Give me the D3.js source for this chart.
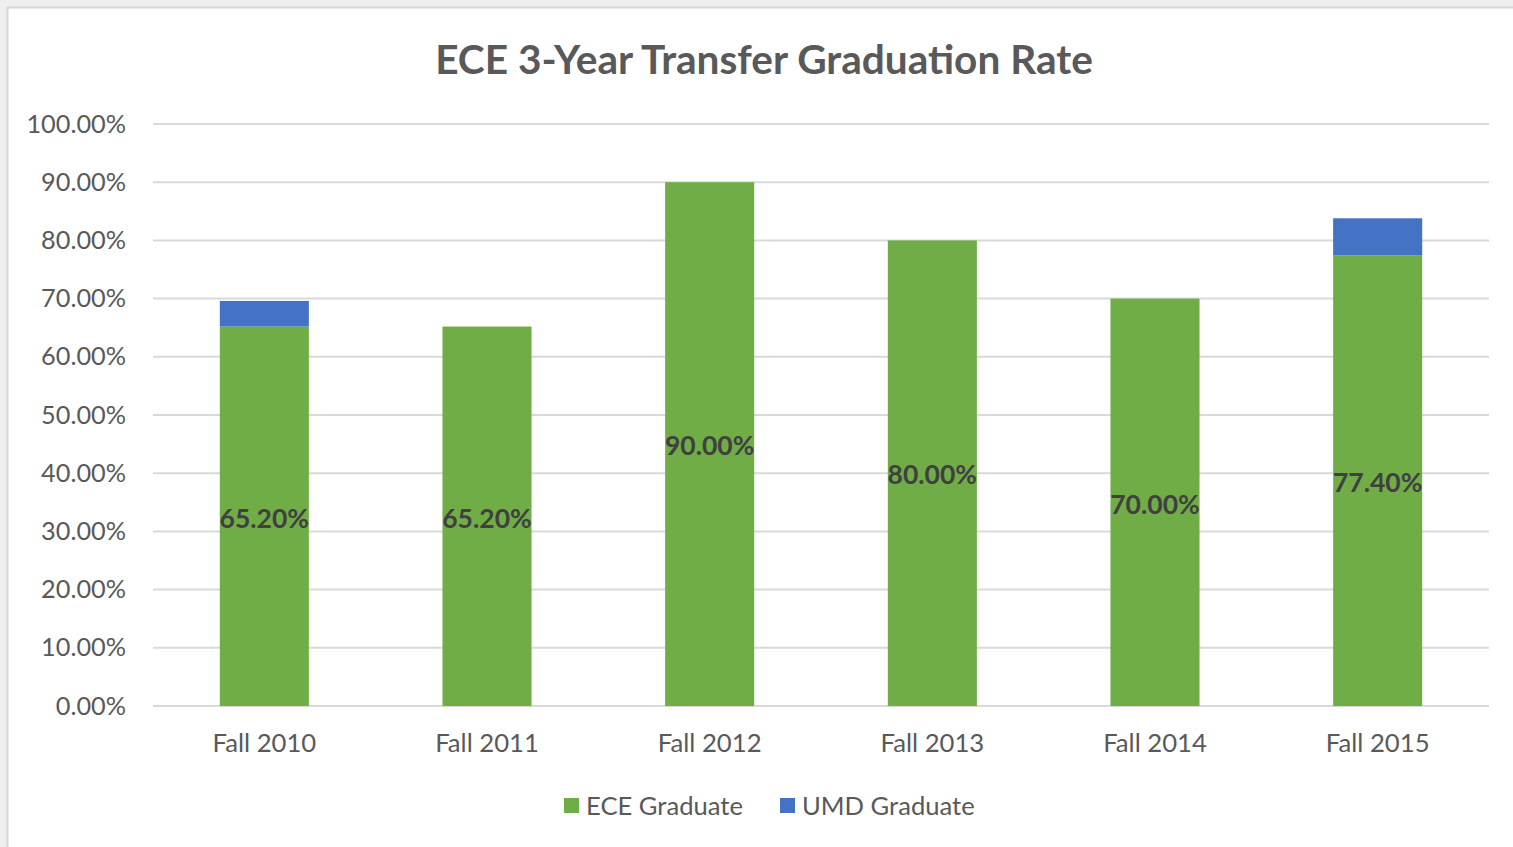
<!DOCTYPE html>
<html>
<head>
<meta charset="utf-8">
<script src="https://cdn.jsdelivr.net/npm/d3@7"></script>
<style>
  body { margin: 0; background: #efefef; }
  svg { display: block; }
</style>
</head>
<body>
<script>
(function all(){
  //chart data
  var categories = ["Fall 2010", "Fall 2011", "Fall 2012", "Fall 2013", "Fall 2014", "Fall 2015"];
  var eceValues = [65.2, 65.2, 90.0, 80.0, 70.0, 77.4];
  var umdValues = [4.4, 0, 0, 0, 0, 6.4];
  var yTicks = [0, 10, 20, 30, 40, 50, 60, 70, 80, 90, 100];
  var seriesNames = ["ECE Graduate", "UMD Graduate"];
  var seriesColors = ["#70ad47", "#4472c4"];

  var width = 1513, height = 847;
  var font = "Lato, 'Open Sans', sans-serif";

  var svg = d3.select("body").append("svg")
    .attr("width", width)
    .attr("height", height);

  //page frame
  svg.append("rect")
    .attr("x", 0).attr("y", 0)
    .attr("width", width).attr("height", height)
    .attr("fill", "#efefef");
  svg.append("rect")
    .attr("x", 7.5).attr("y", 7.5)
    .attr("width", width).attr("height", height)
    .attr("fill", "#ffffff")
    .attr("stroke", "#d6d6d6")
    .attr("stroke-width", 2);

  //plot area
  var plot = {left: 153, right: 1489, top: 124, bottom: 706};

  var x = d3.scaleBand()
    .domain(categories)
    .range([plot.left, plot.right])
    .paddingInner(0.6)
    .paddingOuter(0.3);

  var y = d3.scaleLinear()
    .domain([0, 100])
    .range([plot.bottom, plot.top]);

  //gridlines
  svg.append("g").selectAll("line")
    .data(yTicks)
    .enter()
    .append("line")
    .attr("x1", plot.left)
    .attr("x2", plot.right)
    .attr("y1", function(d){ return y(d); })
    .attr("y2", function(d){ return y(d); })
    .attr("stroke", "#d9d9d9")
    .attr("stroke-width", 2);

  //y axis labels
  var yAxis = svg.append("g")
    .attr("transform", "translate(" + (plot.left - 27) + ",0)")
    .call(d3.axisLeft(y).tickValues(yTicks).tickSize(0).tickPadding(0)
      .tickFormat(function(d){ return d3.format(".2f")(d) + "%"; }));
  yAxis.select(".domain").remove();
  yAxis.selectAll("text")
    .attr("fill", "#595959")
    .style("font-family", font)
    .style("font-size", "25.3px");

  //x axis labels
  var xAxis = svg.append("g")
    .attr("transform", "translate(0," + (plot.bottom + 37) + ")")
    .call(d3.axisBottom(x).tickSize(0).tickPadding(0));
  xAxis.select(".domain").remove();
  xAxis.selectAll("text")
    .attr("fill", "#595959")
    .attr("dy", "0.35em")
    .style("font-family", font)
    .style("font-size", "25.7px");

  //stack the two series
  var rows = categories.map(function(c, i){
    return {cat: c, ece: eceValues[i], umd: umdValues[i]};
  });
  var stack = d3.stack().keys(["ece", "umd"]);
  var stacked = stack(rows);

  svg.append("g").selectAll("g")
    .data(stacked)
    .enter()
    .append("g")
    .attr("fill", function(d, i){ return seriesColors[i]; })
    .selectAll("rect")
    .data(function(d){ return d; })
    .enter()
    .append("rect")
    .attr("x", function(d){ return x(d.data.cat); })
    .attr("width", x.bandwidth())
    .attr("y", function(d){ return y(d[1]); })
    .attr("height", function(d){ return y(d[0]) - y(d[1]); });

  //data labels for the green series
  svg.append("g").selectAll("text")
    .data(rows)
    .enter()
    .append("text")
    .attr("x", function(d){ return x(d.cat) + x.bandwidth() / 2; })
    .attr("y", function(d){ return y(d.ece / 2) + 2; })
    .attr("dy", "0.35em")
    .attr("text-anchor", "middle")
    .attr("fill", "#404040")
    .style("font-family", font)
    .style("font-weight", "bold")
    .style("font-size", "26.5px")
    .text(function(d){ return d3.format(".2f")(d.ece) + "%"; });

  //title
  svg.append("text")
    .attr("x", 764)
    .attr("y", 60)
    .attr("dy", "0.35em")
    .attr("text-anchor", "middle")
    .attr("fill", "#595959")
    .style("font-family", font)
    .style("font-weight", "bold")
    .style("font-size", "40.6px")
    .text("ECE 3-Year Transfer Graduation Rate");

  //legend
  var legendX = [564, 780];
  var legend = svg.append("g").selectAll("g")
    .data(seriesNames)
    .enter()
    .append("g")
    .attr("transform", function(d, i){ return "translate(" + legendX[i] + ",798)"; });
  legend.append("rect")
    .attr("width", 15)
    .attr("height", 15)
    .attr("fill", function(d, i){ return seriesColors[i]; });
  legend.append("text")
    .attr("x", 22)
    .attr("y", 8)
    .attr("dy", "0.35em")
    .attr("fill", "#595959")
    .style("font-family", font)
    .style("font-size", "25.6px")
    .text(function(d){ return d; });
})();
</script>
</body>
</html>
